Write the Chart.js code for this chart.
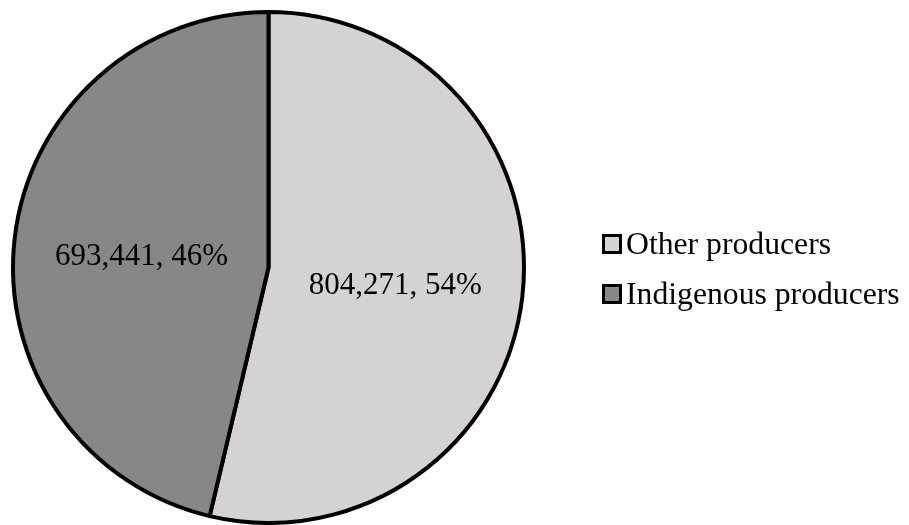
<!DOCTYPE html>
<html>
<head>
<meta charset="utf-8">
<script src="https://cdn.jsdelivr.net/npm/chart.js@4.4.1/dist/chart.umd.min.js"></script>
<style>
  html, body { margin: 0; padding: 0; background: #fff; }
  #wrap { width: 909px; height: 525px; }
</style>
</head>
<body>
<div id="wrap"><canvas id="pie" width="909" height="525"></canvas></div>
<script>
const labels = ['Other producers', 'Indigenous producers']
const values = [804271, 693441]
const percents = [54, 46]
const colors = ['#d4d2d3', '#878787']

const LABEL_FONT = '31px "Liberation Serif", "Times New Roman", serif'
const LEGEND_FONT = '31.7px "Liberation Serif", "Times New Roman", serif'

// data labels inside the slices + legend on the right
const pieText = {
    id: 'pieText',
    afterDraw(chart) {
        const ctx = chart.ctx
        const meta = chart.getDatasetMeta(0)
        ctx.save()
        ctx.font = LABEL_FONT
        ctx.fillStyle = '#000'
        ctx.textAlign = 'center'
        ctx.textBaseline = 'middle'
        meta.data.forEach((arc, i) => {
            const mid = (arc.startAngle + arc.endAngle) / 2
            const r = arc.outerRadius * 0.5
            const x = arc.x + Math.cos(mid) * r
            const y = arc.y + Math.sin(mid) * r + 4
            ctx.fillText(values[i].toLocaleString('en-US') + ', ' + percents[i] + '%', x, y)
        })

        // legend
        ctx.font = LEGEND_FONT
        ctx.textAlign = 'left'
        ctx.textBaseline = 'alphabetic'
        labels.forEach((lab, i) => {
            const cy = 244 + i * 50
            ctx.fillStyle = colors[i]
            ctx.fillRect(603.5, cy - 8.5, 17, 17)
            ctx.lineWidth = 3
            ctx.strokeStyle = '#000'
            ctx.strokeRect(603.5, cy - 8.5, 17, 17)
            ctx.fillStyle = '#000'
            ctx.fillText(lab, 626, cy + 10)
        })
        ctx.restore()
    }
}

new Chart(document.getElementById('pie').getContext('2d'), {
    type: 'pie',
    data: {
        labels: labels,
        datasets: [{
            data: values,
            backgroundColor: colors,
            borderColor: '#000',
            borderWidth: 4
        }]
    },
    options: {
        responsive: false,
        animation: false,
        layout: { padding: { left: 10, top: 10, right: 382, bottom: 0 } },
        plugins: {
            legend: { display: false },
            tooltip: { enabled: false }
        }
    },
    plugins: [pieText]
})
</script>
</body>
</html>
